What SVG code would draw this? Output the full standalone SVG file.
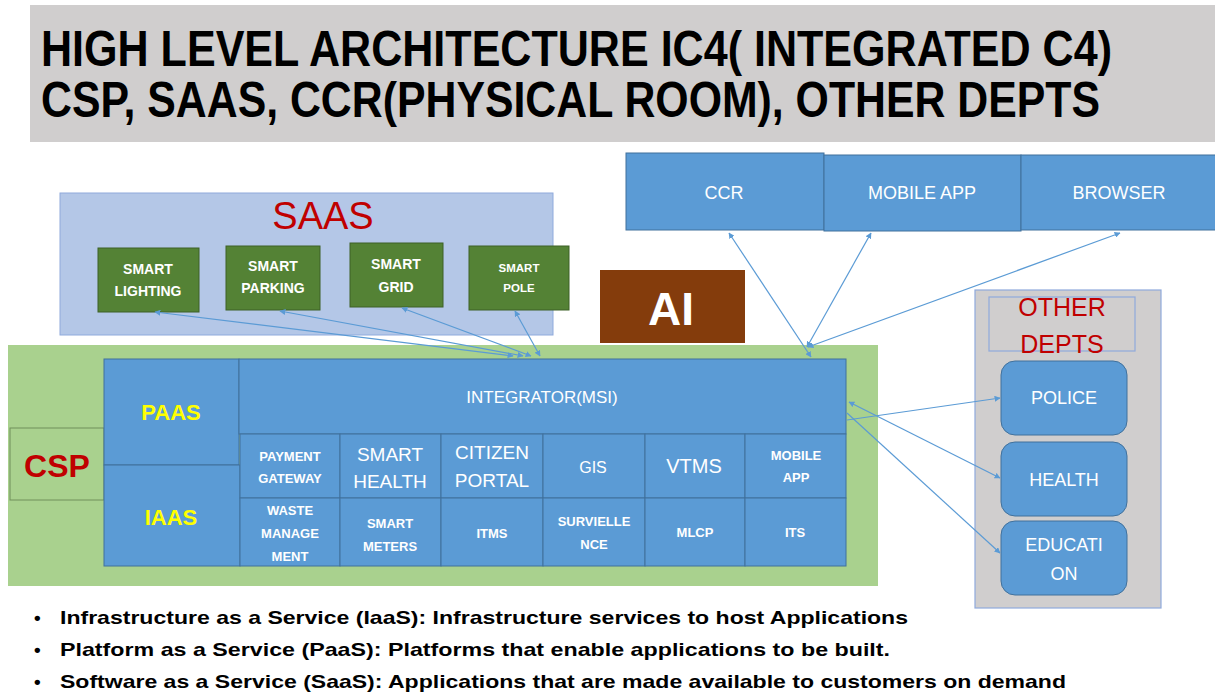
<svg xmlns="http://www.w3.org/2000/svg" width="1215" height="696" viewBox="0 0 1215 696">
<defs>
<marker id="ah" viewBox="0 0 10 10" refX="9" refY="5" markerWidth="6" markerHeight="6" orient="auto-start-reverse" markerUnits="userSpaceOnUse">
<path d="M0,0 L10,5 L0,10 z" fill="#5b9bd5"/>
</marker>
<style>
.t{font-family:"Liberation Sans",Arial,sans-serif}
.b{font-weight:bold}
.w{fill:#ffffff}
.blue{fill:#5b9bd5;stroke:#41719c;stroke-width:1}
.grn{fill:#548235;stroke:#3d6126;stroke-width:1}
.cn{stroke:#5b9bd5;stroke-width:1.2;fill:none;marker-start:url(#ah);marker-end:url(#ah)}
.cn1{stroke:#5b9bd5;stroke-width:1.2;fill:none;marker-end:url(#ah)}
</style>
</defs>
<rect width="1215" height="696" fill="#ffffff"/>

<g id="title">
<rect x="30" y="5" width="1185" height="137" fill="#d0cece"/>
<text class="t b" transform="translate(41,66) scale(1,1.25)" x="0" y="0" font-size="40" textLength="1071" lengthAdjust="spacingAndGlyphs">HIGH LEVEL ARCHITECTURE IC4( INTEGRATED C4)</text>
<text class="t b" transform="translate(41,117) scale(1,1.25)" x="0" y="0" font-size="40" textLength="1059" lengthAdjust="spacingAndGlyphs">CSP, SAAS, CCR(PHYSICAL ROOM), OTHER DEPTS</text>
</g>

<g id="saas">
<rect x="60" y="193" width="493" height="142" fill="#b4c7e7" stroke="#8faadc" stroke-width="1"/>
<text class="t" x="323" y="229" font-size="38" fill="#c00000" text-anchor="middle">SAAS</text>
</g>
<g id="smart-lighting">
<rect class="grn" x="98" y="248" width="101" height="64"/>
<text class="t b w" font-size="14" text-anchor="middle"><tspan x="148" y="274">SMART</tspan><tspan x="148" y="296">LIGHTING</tspan></text>
</g>
<g id="smart-parking">
<rect class="grn" x="226" y="246" width="94" height="64"/>
<text class="t b w" font-size="14" text-anchor="middle"><tspan x="273" y="271">SMART</tspan><tspan x="273" y="293">PARKING</tspan></text>
</g>
<g id="smart-grid">
<rect class="grn" x="350" y="243" width="93" height="64"/>
<text class="t b w" font-size="14" text-anchor="middle"><tspan x="396" y="269">SMART</tspan><tspan x="396" y="292">GRID</tspan></text>
</g>
<g id="smart-pole">
<rect class="grn" x="469" y="246" width="100" height="64"/>
<text class="t b w" font-size="11.5" text-anchor="middle"><tspan x="519" y="272">SMART</tspan><tspan x="519" y="292">POLE</tspan></text>
</g>

<g id="ai">
<rect x="600" y="270" width="145" height="73" fill="#843c0c"/>
<text class="t b w" x="671" y="325" font-size="46" text-anchor="middle">AI</text>
</g>

<g id="ccr">
<rect class="blue" x="626" y="153" width="198" height="77"/>
<text class="t w" x="724" y="199" font-size="18" text-anchor="middle">CCR</text>
</g>
<g id="mobile-app-top">
<rect class="blue" x="824" y="155" width="197" height="76"/>
<text class="t w" x="922" y="199" font-size="18" text-anchor="middle">MOBILE APP</text>
</g>
<g id="browser">
<rect class="blue" x="1021" y="155" width="196" height="75"/>
<text class="t w" x="1119" y="199" font-size="18" text-anchor="middle">BROWSER</text>
</g>

<g id="csp-area">
<rect x="8" y="345" width="870" height="241" fill="#a9d18e"/>
</g>
<g id="csp">
<rect x="10" y="428" width="94" height="72" fill="#a9d18e" stroke="#70905a" stroke-width="1"/>
<text class="t b" x="57" y="477" font-size="32" fill="#c00000" text-anchor="middle">CSP</text>
</g>
<g id="paas">
<rect class="blue" x="104" y="359" width="135" height="106"/>
<text class="t b" x="171" y="420" font-size="22" fill="#ffff00" text-anchor="middle">PAAS</text>
</g>
<g id="iaas">
<rect class="blue" x="104" y="465" width="136" height="101"/>
<text class="t b" x="171" y="525" font-size="22" fill="#ffff00" text-anchor="middle">IAAS</text>
</g>
<g id="integrator">
<rect class="blue" x="239" y="359" width="607" height="75"/>
<text class="t w" x="542" y="403" font-size="17" text-anchor="middle">INTEGRATOR(MSI)</text>
</g>

<g id="payment-gateway">
<rect class="blue" x="240" y="434" width="100" height="64"/>
<text class="t b w" font-size="13" text-anchor="middle"><tspan x="290" y="461">PAYMENT</tspan><tspan x="290" y="483">GATEWAY</tspan></text>
</g>
<g id="smart-health">
<rect class="blue" x="340" y="434" width="101" height="64"/>
<text class="t w" font-size="19" text-anchor="middle"><tspan x="390" y="461">SMART</tspan><tspan x="390" y="488">HEALTH</tspan></text>
</g>
<g id="citizen-portal">
<rect class="blue" x="441" y="434" width="102" height="64"/>
<text class="t w" font-size="19" text-anchor="middle"><tspan x="492" y="459">CITIZEN</tspan><tspan x="492" y="487">PORTAL</tspan></text>
</g>
<g id="gis">
<rect class="blue" x="543" y="434" width="102" height="64"/>
<text class="t w" x="593" y="473" font-size="16" text-anchor="middle">GIS</text>
</g>
<g id="vtms">
<rect class="blue" x="645" y="434" width="100" height="64"/>
<text class="t w" x="694" y="473" font-size="20" text-anchor="middle">VTMS</text>
</g>
<g id="mobile-app">
<rect class="blue" x="745" y="434" width="101" height="64"/>
<text class="t b w" font-size="13" text-anchor="middle"><tspan x="796" y="460">MOBILE</tspan><tspan x="796" y="482">APP</tspan></text>
</g>

<g id="waste-management">
<rect class="blue" x="240" y="498" width="100" height="68"/>
<text class="t b w" font-size="13" text-anchor="middle"><tspan x="290" y="515">WASTE</tspan><tspan x="290" y="538">MANAGE</tspan><tspan x="290" y="561">MENT</tspan></text>
</g>
<g id="smart-meters">
<rect class="blue" x="340" y="498" width="101" height="68"/>
<text class="t b w" font-size="13" text-anchor="middle"><tspan x="390" y="528">SMART</tspan><tspan x="390" y="551">METERS</tspan></text>
</g>
<g id="itms">
<rect class="blue" x="441" y="498" width="102" height="68"/>
<text class="t b w" x="492" y="538" font-size="13" text-anchor="middle">ITMS</text>
</g>
<g id="surveillance">
<rect class="blue" x="543" y="498" width="102" height="68"/>
<text class="t b w" font-size="13" text-anchor="middle"><tspan x="594" y="526">SURVIELLE</tspan><tspan x="594" y="549">NCE</tspan></text>
</g>
<g id="mlcp">
<rect class="blue" x="645" y="498" width="100" height="68"/>
<text class="t b w" x="695" y="537" font-size="13" text-anchor="middle">MLCP</text>
</g>
<g id="its">
<rect class="blue" x="745" y="498" width="101" height="68"/>
<text class="t b w" x="795" y="537" font-size="13" text-anchor="middle">ITS</text>
</g>

<g id="other-depts">
<rect x="975" y="290" width="186" height="318" fill="#d0cece" stroke="#8faadc" stroke-width="1.2"/>
<rect x="989" y="297" width="146" height="54" fill="none" stroke="#8faadc" stroke-width="1.2"/>
<text class="t" font-size="25" fill="#c00000" text-anchor="middle"><tspan x="1062" y="316">OTHER</tspan><tspan x="1062" y="353">DEPTS</tspan></text>
</g>
<g id="police">
<rect class="blue" x="1001" y="361" width="126" height="74" rx="14"/>
<text class="t w" x="1064" y="404" font-size="18" text-anchor="middle">POLICE</text>
</g>
<g id="health">
<rect class="blue" x="1001" y="442" width="126" height="74" rx="14"/>
<text class="t w" x="1064" y="486" font-size="18" text-anchor="middle">HEALTH</text>
</g>
<g id="education">
<rect class="blue" x="1001" y="521" width="126" height="74" rx="14"/>
<text class="t w" font-size="18" text-anchor="middle"><tspan x="1064" y="551">EDUCATI</tspan><tspan x="1064" y="580">ON</tspan></text>
</g>

<g id="connectors">
<line class="cn" x1="513" y1="356" x2="155" y2="312"/>
<line class="cn" x1="523" y1="356" x2="280" y2="311"/>
<line class="cn" x1="531" y1="356" x2="402" y2="308"/>
<line class="cn" x1="540" y1="356" x2="515" y2="311"/>
<line class="cn" x1="811" y1="357" x2="729" y2="233"/>
<line class="cn" x1="807" y1="347" x2="871" y2="233"/>
<line class="cn" x1="808" y1="347" x2="1120" y2="233"/>
<line class="cn1" x1="847" y1="420" x2="1000" y2="398"/>
<line class="cn" x1="849" y1="402" x2="1000" y2="478"/>
<line class="cn1" x1="847" y1="413" x2="1000" y2="553"/>
</g>

<g id="notes" xml:space="preserve">
<text class="t b" font-size="19" x="34" y="624">•</text>
<text class="t b" font-size="19" x="60" y="624" textLength="848" lengthAdjust="spacingAndGlyphs">Infrastructure as a Service (IaaS): Infrastructure services  to host Applications</text>
<text class="t b" font-size="19" x="34" y="656">•</text>
<text class="t b" font-size="19" x="60" y="656" textLength="830" lengthAdjust="spacingAndGlyphs">Platform as a Service (PaaS):  Platforms that enable  applications to be built.</text>
<text class="t b" font-size="19" x="34" y="688">•</text>
<text class="t b" font-size="19" x="60" y="688" textLength="1006" lengthAdjust="spacingAndGlyphs">Software as a Service (SaaS): Applications that are made available to customers on demand</text>
</g>
</svg>
